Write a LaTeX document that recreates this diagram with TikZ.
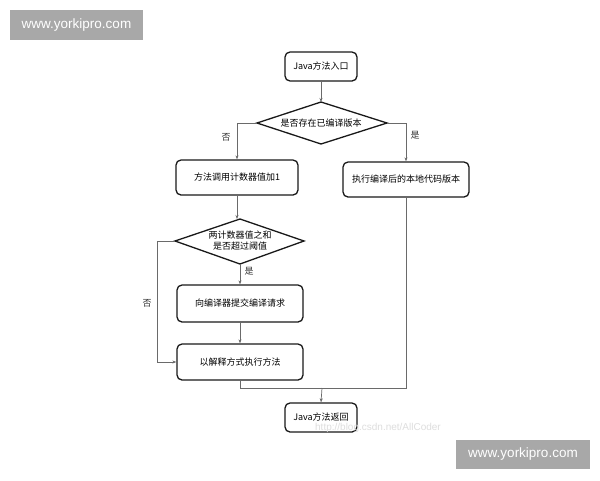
\documentclass[tikz,border=0pt]{standalone}
\usepackage{fontspec}
\newfontfamily\cjk{Noto Sans CJK SC}
\newfontfamily\wmfont{Liberation Sans}
\usetikzlibrary{arrows.meta}
\definecolor{linegray}{HTML}{6A6A6A}
\definecolor{wmgray}{HTML}{A8A8A8}
\begin{document}
\begin{tikzpicture}[x=1pt,y=-1pt,
  boxnode/.style={draw=black!90, line width=1.3pt, rounded corners=5pt, fill=white,
    inner sep=0pt, font=\cjk\fontsize{9}{10}\selectfont, align=center},
  dianode/.style={draw=black!90, line width=1.3pt, fill=white},
  txt/.style={font=\cjk\fontsize{9}{11}\selectfont, align=center, inner sep=0pt},
  conn/.style={draw=linegray, line width=0.7pt},
  arr/.style={conn, -{Stealth[length=4pt,width=3pt]}},
  lbl/.style={font=\cjk\fontsize{9}{10}\selectfont, inner sep=0pt, text=black!80},
  wm/.style={fill=wmgray, text=white, font=\wmfont\fontsize{13.5}{15}\selectfont, inner sep=0pt}
]
\useasboundingbox (0,0) rectangle (600,480);
\fill[white] (0,0) rectangle (600,480);

% watermarks
\node[wm, minimum width=133pt, minimum height=30pt] (wmtop) at (76.5,25) {www.yorkipro.com};
\node[wm, minimum width=134pt, minimum height=29pt] (wmbot) at (523,454.5) {www.yorkipro.com};

% boxes
\node[boxnode, minimum width=72pt, minimum height=29pt] (entry) at (321,66.5) {Java方法入口};
\node[boxnode, minimum width=122pt, minimum height=35pt] (count) at (237,177.5) {方法调用计数器值加1};
\node[boxnode, minimum width=126pt, minimum height=35pt] (native) at (406,179.5) {执行编译后的本地代码版本};
\node[boxnode, minimum width=126pt, minimum height=37pt] (submit) at (240,303.5) {向编译器提交编译请求};
\node[boxnode, minimum width=126pt, minimum height=36pt] (interp) at (240,362) {以解释方式执行方法};
\node[boxnode, minimum width=72pt, minimum height=29pt] (ret) at (321,417.5) {Java方法返回};
\node[font=\wmfont\fontsize{10}{12}\selectfont, text=black!13, inner sep=0pt] (csdn) at (378,428) {http://blog.csdn.net/AllCoder};

% diamonds
\draw[dianode] (257,123) -- (321,102) -- (387,123) -- (321,144) -- cycle;
\node[txt] (d1) at (321,123) {是否存在已编译版本};
\coordinate (d1l) at (257,123);
\coordinate (d1r) at (387,123);
\coordinate (d1t) at (321,102);
\draw[dianode] (175,241) -- (240,219) -- (304,241) -- (240,264) -- cycle;
\node[txt] (d2) at (240,241) {两计数器值之和\\是否超过阈值};
\coordinate (d2l) at (175,241);
\coordinate (d2t) at (240,219);
\coordinate (d2b) at (240,264);

% connectors
\draw[arr] (entry.south) -- (d1t);
\draw[arr] (d1l) -- (count.north |- d1l) -- (count.north);
\node[lbl] (no1) at (226,137) {否};
\draw[arr] (d1r) -- (native.north |- d1r) -- (native.north);
\node[lbl] (yes1) at (415,135) {是};
\draw[arr] (count.south) -- (count.south |- d2t);
\draw[arr] (d2b) -- (submit.north);
\node[lbl] (yes2) at (249,271) {是};
\draw[arr] (submit.south) -- (interp.north);
\coordinate (loopx) at (157,241);
\draw[arr] (d2l) -- (loopx) -- (loopx |- interp.west) -- (interp.west);
\node[lbl] (no2) at (147,303) {否};
\coordinate (junc) at (322,388);
\draw[conn] (interp.south) -- (interp.south |- junc) -- (native.south |- junc) -- (native.south);
\draw[arr] (junc) -- (ret.north);
\end{tikzpicture}
\end{document}
